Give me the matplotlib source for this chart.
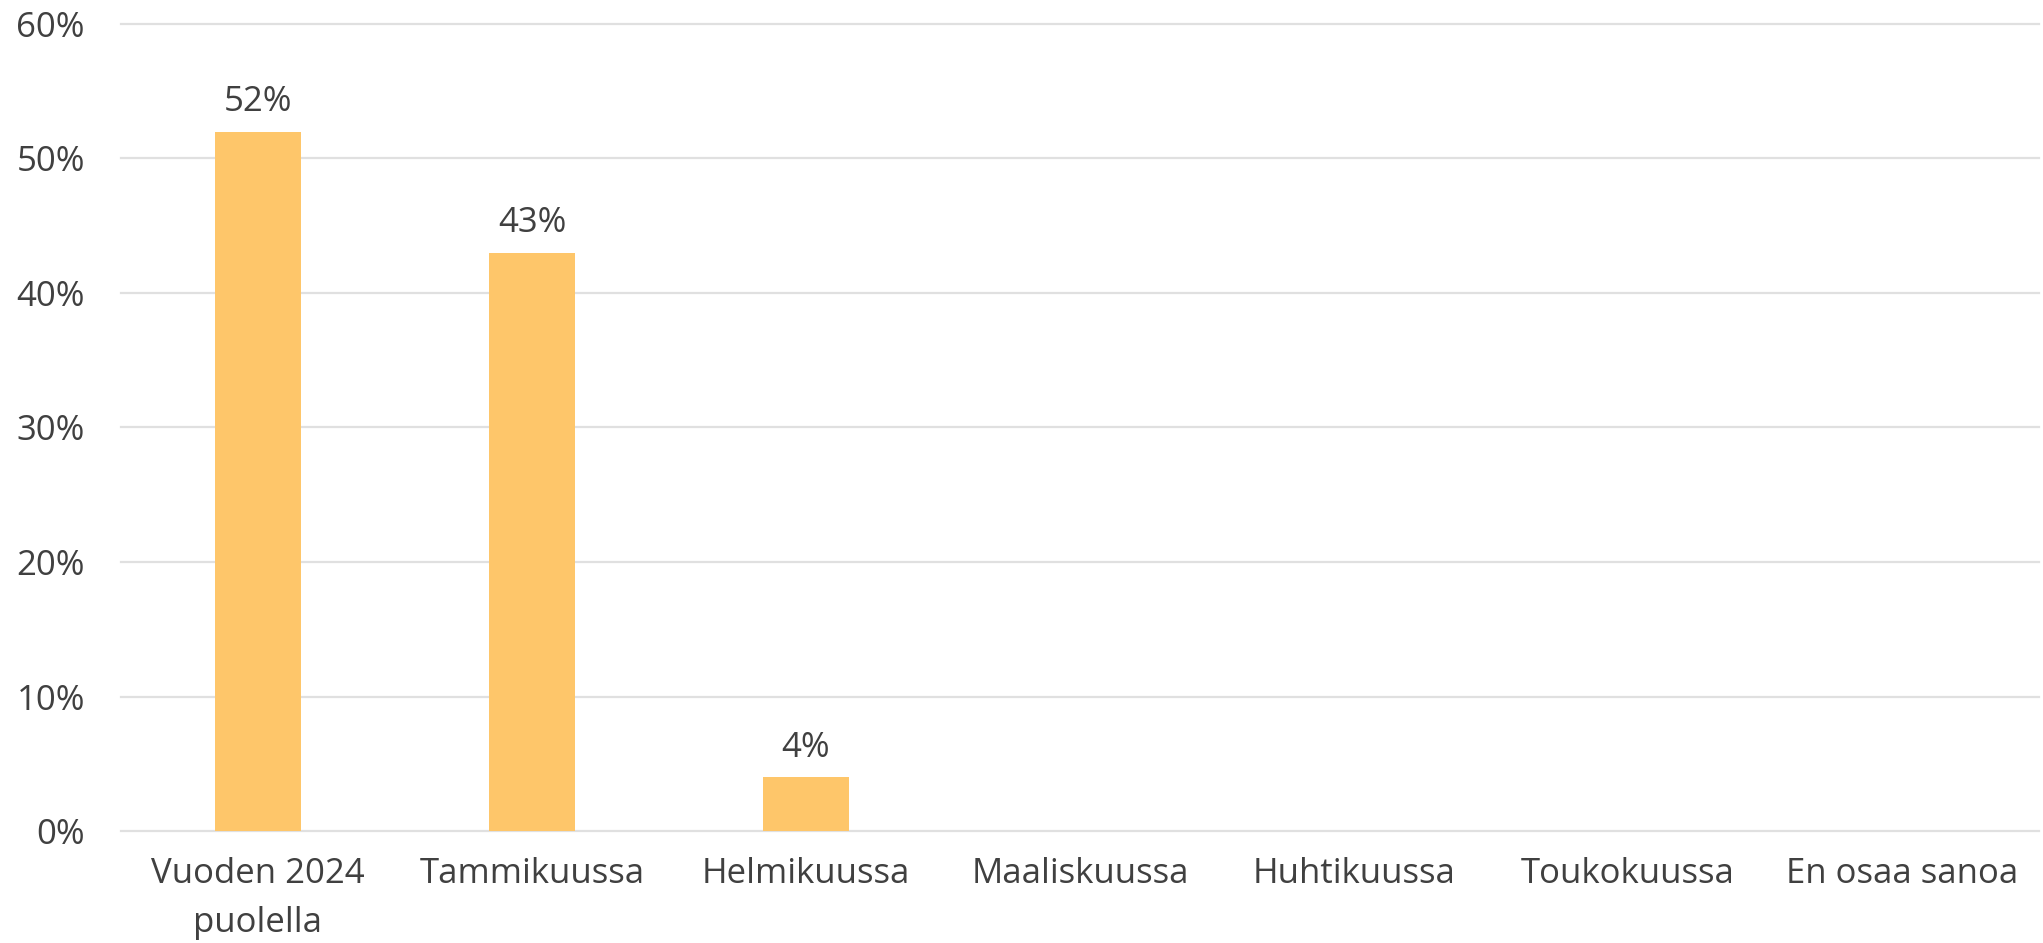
import matplotlib
matplotlib.use("Agg")
import matplotlib.pyplot as plt
import matplotlib.ticker as mtick

# data
categories = ["Vuoden 2024\npuolella", "Tammikuussa", "Helmikuussa", "Maaliskuussa",
              "Huhtikuussa", "Toukokuussa", "En osaa sanoa"]
values = [0.52, 0.43, 0.04, None, None, None, None]
value_labels = ["52%", "43%", "4%", "", "", "", ""]

bar_color = "#FEC66A"
text_color = "#404040"
grid_color = "#E0E0E0"

plt.rcParams['font.family'] = ['Open Sans', 'DejaVu Sans']
fs = 25

fig = plt.figure(figsize=(20.43, 9.43), dpi=100)
ax = fig.add_axes([121 / 2043, 1 - 831 / 943, (2039 - 121) / 2043, (831 - 24) / 943])

x = list(range(len(categories)))
heights = [v if v is not None else 0 for v in values]
bars = ax.bar(x, heights, width=0.314, color=bar_color, zorder=2)

for b, v, lab in zip(bars, values, value_labels):
    if v is None:
        continue
    ax.annotate(lab, (b.get_x() + b.get_width() / 2, v), xytext=(0, 9),
                textcoords="offset points", ha="center", va="bottom",
                fontsize=fs, color=text_color)

ax.set_xlim(-0.5, len(categories) - 0.5)
ax.set_ylim(0, 0.6)
ax.yaxis.set_major_locator(mtick.MultipleLocator(0.1))
ax.yaxis.set_major_formatter(mtick.PercentFormatter(1.0, decimals=0))

ax.set_xticks(x)
ax.set_xticklabels(categories, fontsize=fs, color=text_color, linespacing=1.55)
ax.tick_params(axis="x", length=0, pad=19)
ax.tick_params(axis="y", length=0, pad=26, labelsize=fs, labelcolor=text_color)

ax.grid(axis="y", color=grid_color, linewidth=1.6, zorder=0)
for line in ax.get_ygridlines():
    line.set_clip_on(False)
ax.set_axisbelow(True)
for s in ax.spines.values():
    s.set_visible(False)

fig.savefig("out.png", dpi=100)
